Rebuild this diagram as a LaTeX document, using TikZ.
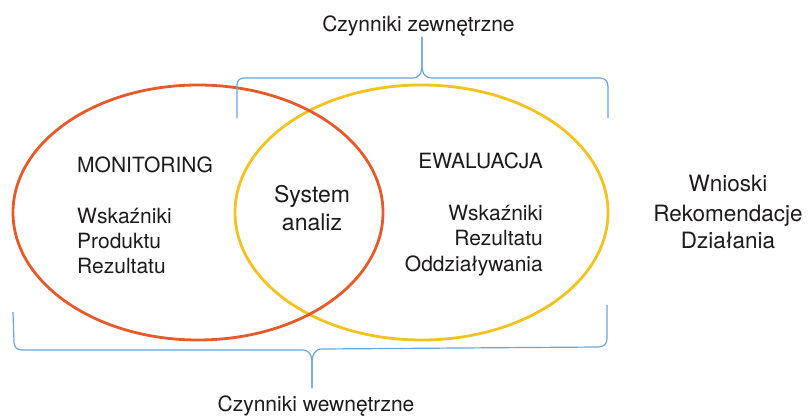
\documentclass[tikz,border=0pt]{standalone}
\usepackage{fontspec}
\setmainfont{TeX Gyre Heros}
\usetikzlibrary{shapes.geometric}
\definecolor{monred}{HTML}{E65A2A}
\definecolor{evyel}{HTML}{F2C21E}
\definecolor{brblue}{HTML}{6AA5DC}
\definecolor{txt}{HTML}{1E1A1C}
\begin{document}
\begin{tikzpicture}[x=1pt,y=-1pt,
  venn/.style={ellipse, line width=2.8pt, inner sep=0pt, minimum width=370pt, minimum height=255pt},
  brace/.style={draw=brblue, line width=1.2pt, line join=round},
  lbl/.style={inner sep=0pt, text=txt, font=\fontsize{21}{25}\selectfont},
  big/.style={inner sep=0pt, text=txt, font=\fontsize{22.5}{27}\selectfont}]
\useasboundingbox (0,0) rectangle (809,417);
% ellipses
\node[venn, draw=evyel, minimum width=373pt] (ewa) at (421.5,212.5) {};
\node[venn, draw=monred] (mon) at (198,212.5) {};
% top brace
\coordinate (tl) at (237,118);
\coordinate (ttip) at (422,37);
\coordinate (tr) at (608,118);
\draw[brace] (tl) -- (237,85) .. controls (237,80) and (240,78) .. (245,78) -- (412,78) .. controls (419,78) and (422,74) .. (422,64) -- (ttip);
\draw[brace] (ttip) -- (422,64) .. controls (422,74) and (425,78) .. (432,78) -- (600,78) .. controls (605,78) and (608,81) .. (608,87) -- (tr);
% bottom brace
\coordinate (bl) at (13,312);
\coordinate (btip) at (312,388);
\coordinate (br) at (607,305);
\draw[brace] (bl) -- (14,342) .. controls (14,347) and (17,350) .. (22,350) -- (302,350) .. controls (309,350) and (312,354) .. (312,364) -- (btip);
\draw[brace] (btip) -- (312,364) .. controls (312,354) and (315,349) .. (322,349) -- (598,347) .. controls (604,347) and (607,344) .. (607,338) -- (br);
% labels
\node[lbl, anchor=base] (ext) at (418.5,32) {Czynniki zewnętrzne};
\node[lbl, anchor=base] (int) at (316,411.5) {Czynniki wewnętrzne};
\node[lbl, anchor=base west] (m1) at (77,172) {MONITORING};
\node[lbl, anchor=base west] (m2) at (77,223) {Wskaźniki};
\node[lbl, anchor=base west] (m3) at (77,248) {Produktu};
\node[lbl, anchor=base west] (m4) at (77,273) {Rezultatu};
\node[big, anchor=base, font=\fontsize{23}{28}\selectfont] (s1) at (312,202) {System};
\node[big, anchor=base, font=\fontsize{23}{28}\selectfont] (s2) at (312,230) {analiz};
\node[lbl, anchor=base east] (e1) at (543,168) {EWALUACJA};
\node[lbl, anchor=base east] (e2) at (543,220) {Wskaźniki};
\node[lbl, anchor=base east] (e3) at (543,245) {Rezultatu};
\node[lbl, anchor=base east] (e4) at (543,271) {Oddziaływania};
\node[big, anchor=base] (w1) at (728,192) {Wnioski};
\node[big, anchor=base] (w2) at (728,222) {Rekomendacje};
\node[big, anchor=base] (w3) at (728,248) {Działania};
\end{tikzpicture}
\end{document}
